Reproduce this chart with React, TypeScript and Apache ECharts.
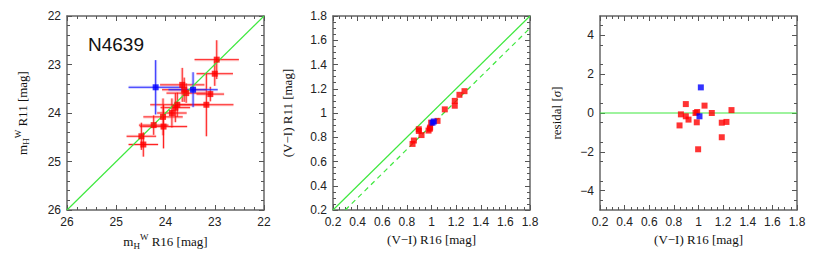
import { useEffect, useRef } from 'react';
import * as echarts from 'echarts';

// Panel 1: m_H^W magnitudes (R16 vs R11) with symmetric errors
const magR16Red = [22.96, 23.0, 23.09, 23.17, 23.66, 23.62, 23.58, 23.76, 23.8, 23.87, 24.05, 24.04, 24.24, 24.49, 24.45];
const magR11Red = [22.9, 23.19, 23.61, 23.83, 23.42, 23.52, 23.59, 23.83, 23.89, 24.0, 24.08, 24.28, 24.25, 24.48, 24.65];
const errR16Red = [0.45, 0.37, 0.28, 0.55, 0.45, 0.45, 0.4, 0.55, 0.3, 0.3, 0.4, 0.48, 0.3, 0.3, 0.3];
const errR11Red = [0.4, 0.25, 0.15, 0.65, 0.35, 0.25, 0.2, 0.25, 0.3, 0.3, 0.38, 0.45, 0.2, 0.28, 0.25];
const magR16Blue = [24.2, 23.44];
const magR11Blue = [23.47, 23.52];
const errR16Blue = [0.55, 0.5];
const errR11Blue = [0.56, 0.36];

// Panel 2 & 3: (V-I) colours and residuals
const colR16Red = [0.846, 0.857, 0.897, 0.897, 0.919, 0.976, 0.986, 0.989, 0.997, 1.049, 1.108, 1.189, 1.189, 1.227, 1.268];
const colR11Red = [0.745, 0.773, 0.866, 0.852, 0.818, 0.855, 0.87, 0.88, 0.92, 0.935, 1.03, 1.06, 1.1, 1.15, 1.18];
const residRed = [-0.64, -0.07, 0.46, -0.17, -0.34, 0.0, -0.48, 0.05, -1.87, 0.38, 0.0, -0.5, -1.25, -0.46, 0.15];
const colR16Blue = [1.019, 1.008];
const colR11Blue = [0.93, 0.92];
const residBlue = [1.32, -0.17];

// Tick labels for the residual axis
const residTicks = [-4, -2, 0, 2, 4];

// Reference lines
const identityMag = [26, 22];
const identityCol = [0.2, 1.8];
const offsetColX = [0.3, 1.8];
const offsetColY = [0.2, 1.7];
const zeroLineX = [0.2, 1.8];
const zeroLineY = [0, 0];

const GREEN = '#3ee83e';
const FRAME = '#666';
const SANS = 'Liberation Sans';
const SERIF = 'Liberation Serif';

const fmt = (v: number) => String(Math.round(v * 100) / 100).replace('-', '\u2212');

function axis(isX: boolean, gridIndex: number, min: number, max: number, interval: number, minorSplit: number, inverse: boolean, mirror: boolean, extra: any = {}, custom?: number[]) {
  return {
    type: 'value',
    gridIndex,
    min,
    max,
    interval,
    inverse,
    position: isX ? (mirror ? 'top' : 'bottom') : mirror ? 'right' : 'left',
    axisLine: { show: true, onZero: false, lineStyle: { color: FRAME, width: 1.5 } },
    axisTick: { show: true, inside: true, length: 5, lineStyle: { color: '#555', width: 1 }, ...(custom ? { customValues: custom } : {}) },
    minorTick: { show: true, splitNumber: minorSplit, length: 3, lineStyle: { color: '#555', width: 1 } },
    splitLine: { show: false },
    minorSplitLine: { show: false },
    axisLabel: mirror
      ? { show: false }
      : {
          show: true,
          fontFamily: SANS,
          fontSize: 12,
          color: '#222',
          margin: 6,
          formatter: fmt,
          ...(custom ? { customValues: custom } : {}),
        },
    ...extra,
  };
}

const nameRich = {
  t: { fontFamily: SERIF, fontSize: 13, color: '#111', verticalAlign: 'middle' },
  sub: { fontFamily: SERIF, fontSize: 9, color: '#111', verticalAlign: 'middle', padding: [8, 0, 0, 0] },
  sup: { fontFamily: SERIF, fontSize: 9, color: '#111', verticalAlign: 'middle', padding: [0, 0, 9, 0] },
  s: { fontFamily: SERIF, fontSize: 13, fontStyle: 'italic', color: '#111', verticalAlign: 'middle' },
};

function xName(text: string, gap: number) {
  return { name: text, nameLocation: 'middle', nameGap: gap, nameTextStyle: { rich: nameRich } };
}
function yName(text: string, gap: number) {
  return { name: text, nameLocation: 'middle', nameGap: gap, nameRotate: 90, nameTextStyle: { rich: nameRich } };
}

function errorBars(xs: number[], ys: number[], exs: number[], eys: number[], core: string, halo: string) {
  return {
    type: 'custom',
    xAxisIndex: 0,
    yAxisIndex: 0,
    data: xs.map((x, i) => [x, ys[i], exs[i], eys[i]]),
    encode: { x: 0, y: 1 },
    silent: true,
    z: 2,
    renderItem: (_params: any, api: any) => {
      const x = api.value(0);
      const y = api.value(1);
      const ex = api.value(2);
      const ey = api.value(3);
      const a = api.coord([x - ex, y]);
      const b = api.coord([x + ex, y]);
      const c = api.coord([x, y - ey]);
      const d = api.coord([x, y + ey]);
      const seg = (p: number[], q: number[], stroke: string, w: number) => ({
        type: 'line',
        shape: { x1: p[0], y1: p[1], x2: q[0], y2: q[1] },
        style: { stroke, lineWidth: w },
      });
      return {
        type: 'group',
        children: [seg(a, b, halo, 3), seg(c, d, halo, 3), seg(a, b, core, 1), seg(c, d, core, 1)],
      };
    },
  };
}

function pairs(xs: number[], ys: number[]) {
  return xs.map((x, i) => [x, ys[i]]);
}

function scatter(xi: number, yi: number, xs: number[], ys: number[], color: string) {
  return {
    type: 'scatter',
    xAxisIndex: xi,
    yAxisIndex: yi,
    symbol: 'rect',
    symbolSize: 6,
    itemStyle: { color },
    data: pairs(xs, ys),
    z: 5,
  };
}

function refLine(xi: number, yi: number, xs: number[], ys: number[], dashed = false) {
  return {
    type: 'line',
    xAxisIndex: xi,
    yAxisIndex: yi,
    showSymbol: false,
    symbol: 'none',
    silent: true,
    color: GREEN,
    itemStyle: { color: GREEN },
    lineStyle: { color: GREEN, width: 1.2, type: dashed ? [5, 4] : 'solid', opacity: 1 },
    data: pairs(xs, ys),
    z: 3,
  };
}

export default function App() {
  const ref = useRef<HTMLDivElement>(null);
  useEffect(() => {
    const chart = echarts.init(ref.current!, null, { renderer: 'svg' });
    const option: any = {
      animation: false,
      backgroundColor: '#fff',
      grid: [
        { left: 67, top: 16, width: 197, height: 194 },
        { left: 333, top: 16, width: 197, height: 194 },
        { left: 600, top: 16, width: 197, height: 194 },
      ],
      xAxis: [
        axis(true, 0, 22, 26, 1, 5, true, false, xName('{t|m}{sub|H}{sup|W}{t| R16 [mag]}', 20)),
        axis(true, 1, 0.2, 1.8, 0.2, 4, false, false, xName('{t|(V\u2212I) R16 [mag]}', 22)),
        axis(true, 2, 0.2, 1.8, 0.2, 4, false, false, xName('{t|(V\u2212I) R16 [mag]}', 22)),
        axis(true, 0, 22, 26, 1, 5, true, true),
        axis(true, 1, 0.2, 1.8, 0.2, 4, false, true),
        axis(true, 2, 0.2, 1.8, 0.2, 4, false, true),
      ],
      yAxis: [
        axis(false, 0, 22, 26, 1, 5, true, false, yName('{t|m}{sub|H}{sup|W}{t| R11 [mag]}', 36)),
        axis(false, 1, 0.2, 1.8, 0.2, 4, false, false, yName('{t|(V\u2212I) R11 [mag]}', 39)),
        axis(false, 2, -5, 5, 1, 2, false, false, yName('{t|residal [}{s|\u03c3}{t|]}', 37), residTicks),
        axis(false, 0, 22, 26, 1, 5, true, true),
        axis(false, 1, 0.2, 1.8, 0.2, 4, false, true),
        axis(false, 2, -5, 5, 1, 2, false, true, {}, residTicks),
      ],
      graphic: [
        {
          type: 'text',
          left: 88,
          top: 35,
          style: { text: 'N4639', fontFamily: SANS, fontSize: 19, fill: '#111' },
        },
      ],
      series: [
        refLine(0, 0, identityMag, identityMag),
        errorBars(magR16Red, magR11Red, errR16Red, errR11Red, 'rgba(255,0,0,0.85)', 'rgba(255,90,90,0.3)'),
        errorBars(magR16Blue, magR11Blue, errR16Blue, errR11Blue, 'rgba(30,30,255,0.9)', 'rgba(90,90,255,0.3)'),
        scatter(0, 0, magR16Red, magR11Red, '#ff0000'),
        scatter(0, 0, magR16Blue, magR11Blue, '#0000ff'),
        refLine(1, 1, identityCol, identityCol),
        refLine(1, 1, offsetColX, offsetColY, true),
        scatter(1, 1, colR16Red, colR11Red, '#ff0000'),
        scatter(1, 1, colR16Blue, colR11Blue, '#0000ff'),
        refLine(2, 2, zeroLineX, zeroLineY),
        scatter(2, 2, colR16Red, residRed, '#ff0000'),
        scatter(2, 2, colR16Blue, residBlue, '#0000ff'),
      ],
    };
    chart.setOption(option);
    return () => chart.dispose();
  }, []);
  return <div ref={ref} style={{ position: 'absolute', left: 0, top: 0, width: 817, height: 261 }} />;
}
